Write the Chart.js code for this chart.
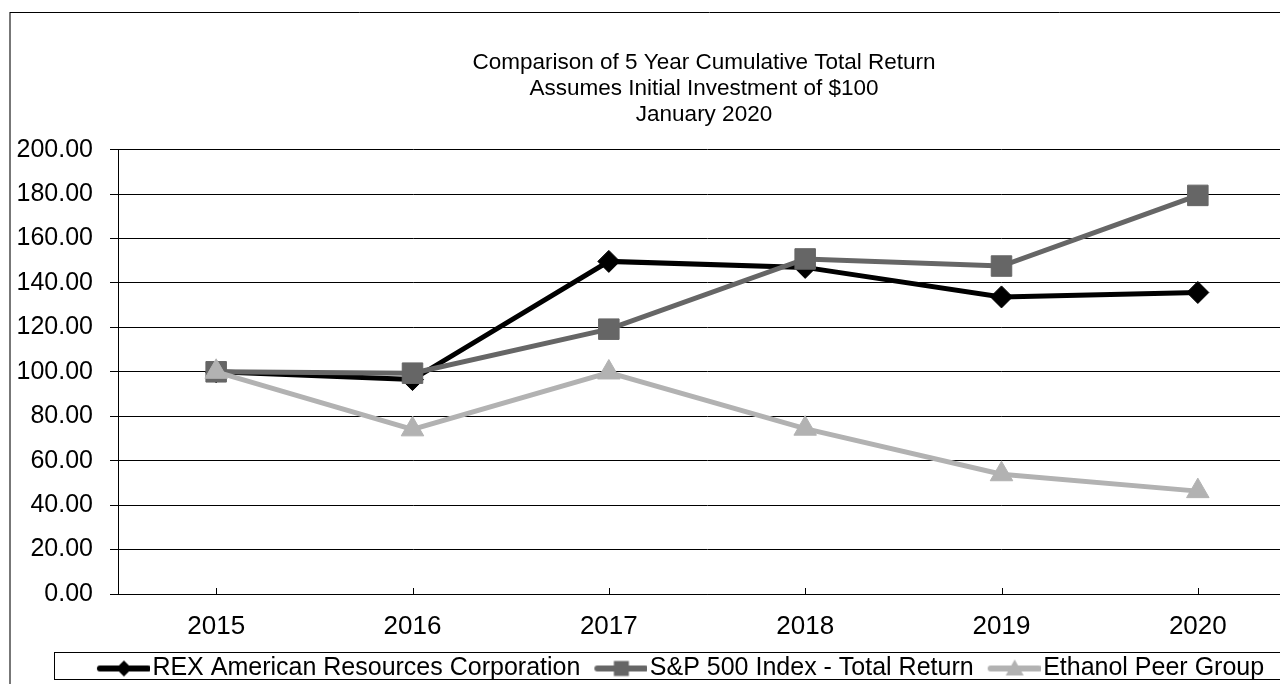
<!DOCTYPE html>
<html>
<head>
<meta charset="utf-8">
<script src="https://cdn.jsdelivr.net/npm/chart.js@4.4.1/dist/chart.umd.min.js"></script>
<style>
  html, body { margin: 0; padding: 0; background: #fff; overflow: hidden; }
  #wrap { position: absolute; left: 0; top: 0; width: 1408px; height: 684px; }
</style>
</head>
<body>
<div id="wrap"><canvas id="grafico"></canvas></div>
<script>
// Dados
const anos = ["2015", "2016", "2017", "2018", "2019", "2020"];
const rex = [100, 96.5, 149.7, 147.0, 133.7, 135.7];
const sp500 = [100, 99.4, 119.2, 150.8, 147.6, 179.4];
const etanol = [100, 74.1, 99.7, 74.4, 53.9, 46.3];
const titulo = [
  "Comparison of 5 Year Cumulative Total Return",
  "Assumes Initial Investment of $100",
  "January 2020"
];
const nomes = ["REX American Resources Corporation", "S&P 500 Index - Total Return", "Ethanol Peer Group"];
const cores = ["#000000", "#666666", "#b2b2b2"];
const marcadores = ["rectRot", "rect", "triangle"];
const raios = [11, 14.5, 13];

const FONTE = "'Liberation Sans', Arial, sans-serif";

// Símbolo da legenda: linha com marcador no meio
function simboloLegenda(i) {
  const c = document.createElement("canvas");
  c.width = 72;
  c.height = 24;
  const ctx = c.getContext("2d");
  ctx.strokeStyle = cores[i];
  ctx.fillStyle = cores[i];
  ctx.lineWidth = 6;
  ctx.lineCap = "round";
  ctx.beginPath();
  ctx.moveTo(22, 12);
  ctx.lineTo(70, 12);
  ctx.stroke();
  const cx = 46, cy = 12;
  ctx.beginPath();
  if (marcadores[i] === "rectRot") {
    ctx.moveTo(cx, cy - 8); ctx.lineTo(cx + 8, cy); ctx.lineTo(cx, cy + 8); ctx.lineTo(cx - 8, cy);
  } else if (marcadores[i] === "rect") {
    ctx.rect(cx - 7.5, cy - 7.5, 15, 15);
  } else {
    ctx.moveTo(cx, cy - 9); ctx.lineTo(cx + 9, cy + 7); ctx.lineTo(cx - 9, cy + 7);
  }
  ctx.closePath();
  ctx.fill();
  return c;
}

const DESLOC_LEGENDA = 28;

const molduras = {
  id: "molduras",
  afterUpdate(chart) {
    // a legenda do original fica um pouco à esquerda do centro
    const lg = chart.legend;
    lg.left -= DESLOC_LEGENDA;
    lg.right -= DESLOC_LEGENDA;
    (lg.legendHitBoxes || []).forEach((h) => { h.left -= DESLOC_LEGENDA; });
  },
  beforeDraw(chart) {
    const ctx = chart.ctx;
    ctx.save();
    ctx.strokeStyle = "#777";
    ctx.lineWidth = 2;
    ctx.beginPath();
    ctx.moveTo(10, 12);
    ctx.lineTo(10, 700);
    ctx.stroke();
    ctx.strokeStyle = "#000";
    ctx.lineWidth = 1;
    ctx.beginPath();
    ctx.moveTo(10, 12.5);
    ctx.lineTo(1500, 12.5);
    ctx.stroke();
    ctx.restore();
  },
  afterDraw(chart) {
    const ctx = chart.ctx;
    const hb = chart.legend.legendHitBoxes;
    ctx.save();
    if (hb && hb.length) {
      const first = hb[0], last = hb[hb.length - 1];
      const meio = first.top + first.height / 2;
      const esq = first.left - 34;
      const dir = last.left + last.width + 80;
      ctx.strokeStyle = "#000";
      ctx.lineWidth = 1;
      ctx.strokeRect(Math.round(esq) + 0.5, Math.round(meio - 17) + 0.5, dir - esq, 27);
    }
    // marcas do eixo x para dentro
    const x = chart.scales.x;
    const base = chart.chartArea.bottom;
    ctx.strokeStyle = "#000";
    ctx.lineWidth = 1;
    anos.forEach((_, i) => {
      const px = Math.round(x.getPixelForValue(i)) + 0.5;
      ctx.beginPath();
      ctx.moveTo(px, base - 6);
      ctx.lineTo(px, base);
      ctx.stroke();
    });
    ctx.restore();
  }
};

function serie(i, dados, ordem) {
  return {
    label: nomes[i],
    data: dados,
    borderColor: cores[i],
    backgroundColor: cores[i],
    borderWidth: 5,
    tension: 0,
    pointStyle: marcadores[i],
    pointRadius: raios[i],
    pointHoverRadius: raios[i],
    pointBorderWidth: 1,
    pointBorderColor: cores[i],
    pointBackgroundColor: cores[i],
    order: ordem
  };
}

new Chart(document.getElementById("grafico"), {
  type: "line",
  data: {
    labels: anos,
    datasets: [serie(0, rex, 2), serie(1, sp500, 1), serie(2, etanol, 0)]
  },
  options: {
    responsive: true,
    maintainAspectRatio: false,
    animation: false,
    devicePixelRatio: 1,
    layout: { padding: { left: 0, right: 0, top: 0, bottom: -7 } },
    plugins: {
      title: {
        display: true,
        text: titulo,
        color: "#000",
        font: { family: FONTE, size: 22.5, weight: "normal", lineHeight: 1.15 },
        padding: { top: 50, bottom: 22 }
      },
      legend: {
        position: "bottom",
        labels: {
          color: "#000",
          font: { family: FONTE, size: 25 },
          usePointStyle: true,
          pointStyleWidth: 52,
          padding: 5,
          generateLabels: () => nomes.map((n, i) => ({
            text: n,
            pointStyle: simboloLegenda(i),
            fillStyle: cores[i],
            strokeStyle: cores[i],
            lineWidth: 0,
            hidden: false,
            datasetIndex: i
          }))
        }
      },
      tooltip: { enabled: false }
    },
    scales: {
      x: {
        offset: true,
        grid: { display: false, drawTicks: false },
        border: { display: true, color: "#000", width: 1 },
        ticks: { color: "#000", font: { family: FONTE, size: 26 }, padding: 17, maxRotation: 0 },
        afterFit: (s) => { s.height = 57; }
      },
      y: {
        min: 0,
        max: 200,
        ticks: {
          stepSize: 20,
          color: "#000",
          font: { family: FONTE, size: 25 },
          padding: 17,
          callback: (v) => Number(v).toFixed(2)
        },
        grid: { color: "#000", lineWidth: 1, tickLength: 8 },
        border: { display: true, color: "#000", width: 1 },
        afterFit: (s) => { s.width = 118; }
      },
      y2: {
        position: "right",
        min: 0,
        max: 1,
        grid: { display: false },
        border: { display: false },
        ticks: { display: false },
        afterFit: (s) => { s.width = 112; }
      }
    }
  },
  plugins: [molduras]
});
</script>
</body>
</html>
